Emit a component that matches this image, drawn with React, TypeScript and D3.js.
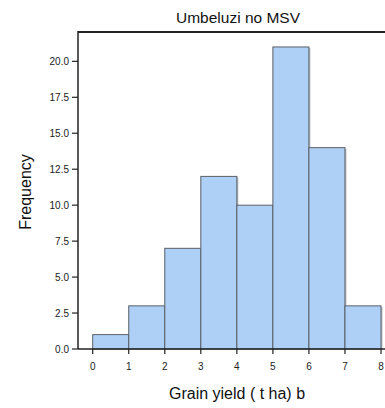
import React from "react";
import * as d3 from "d3";

const binStarts = [0, 1, 2, 3, 4, 5, 6, 7];
const binWidth = 1;
const frequencies = [1, 3, 7, 12, 10, 21, 14, 3];
const xTicks = [0, 1, 2, 3, 4, 5, 6, 7, 8];
const yTicks = [0, 2.5, 5, 7.5, 10, 12.5, 15, 17.5, 20];
const title = "Umbeluzi no MSV";
const xLabel = "Grain yield ( t ha) b";
const yLabel = "Frequency";

const W = 385;
const H = 408;
const font = "Liberation Sans, Arial, sans-serif";

export default function App() {
  const x = d3.scaleLinear().domain([0, 8]).range([92.7, 381]);
  const y = d3.scaleLinear().domain([0, 22.04]).range([349, 32]);
  const left = 78;
  const bottom = y(0);
  const top = y(22.04);
  return (
    <svg width={W} height={H} style={{ position: "absolute", left: 0, top: 0 }}>
      <rect width={W} height={H} fill="#fff" />
      <text x={238} y={23} textAnchor="middle" fontFamily={font} fontSize={15.5} fill="#111">
        {title}
      </text>
      {binStarts.map((b, i) => (
        <g key={i}>
          <rect
            x={x(b) + 1.5}
            y={y(frequencies[i]) + 1}
            width={x(b + binWidth) - x(b)}
            height={bottom - y(frequencies[i]) - 1}
            fill="#8a96a6"
            opacity={0.6}
          />
          <rect
            x={x(b)}
            y={y(frequencies[i])}
            width={x(b + binWidth) - x(b)}
            height={bottom - y(frequencies[i])}
            fill="#aed0f6"
            stroke="#5a5f66"
            strokeWidth={1}
          />
        </g>
      ))}
      <line x1={left} x2={W} y1={top} y2={top} stroke="#222" strokeWidth={1.8} />
      <line x1={left} x2={left} y1={top - 0.9} y2={bottom} stroke="#222" strokeWidth={1.5} />
      <line x1={left} x2={W} y1={bottom} y2={bottom} stroke="#222" strokeWidth={1.5} />
      {yTicks.map((t) => (
        <g key={t}>
          <line x1={left - 6} x2={left} y1={y(t)} y2={y(t)} stroke="#222" strokeWidth={1.2} />
          <text x={left - 9} y={y(t)} dy="0.35em" textAnchor="end" fontFamily={font} fontSize={10} fill="#222">
            {t.toFixed(1)}
          </text>
        </g>
      ))}
      {xTicks.map((t) => (
        <g key={t}>
          <line x1={x(t)} x2={x(t)} y1={bottom} y2={bottom + 5} stroke="#222" strokeWidth={1.2} />
          <text x={x(t)} y={366} dy="0.35em" textAnchor="middle" fontFamily={font} fontSize={10} fill="#222">
            {t}
          </text>
        </g>
      ))}
      <text x={237} y={399} textAnchor="middle" fontFamily={font} fontSize={16} fill="#111">
        {xLabel}
      </text>
      <text
        transform={`translate(31,192) rotate(-90)`}
        textAnchor="middle"
        fontFamily={font}
        fontSize={16}
        fill="#111"
      >
        {yLabel}
      </text>
    </svg>
  );
}
